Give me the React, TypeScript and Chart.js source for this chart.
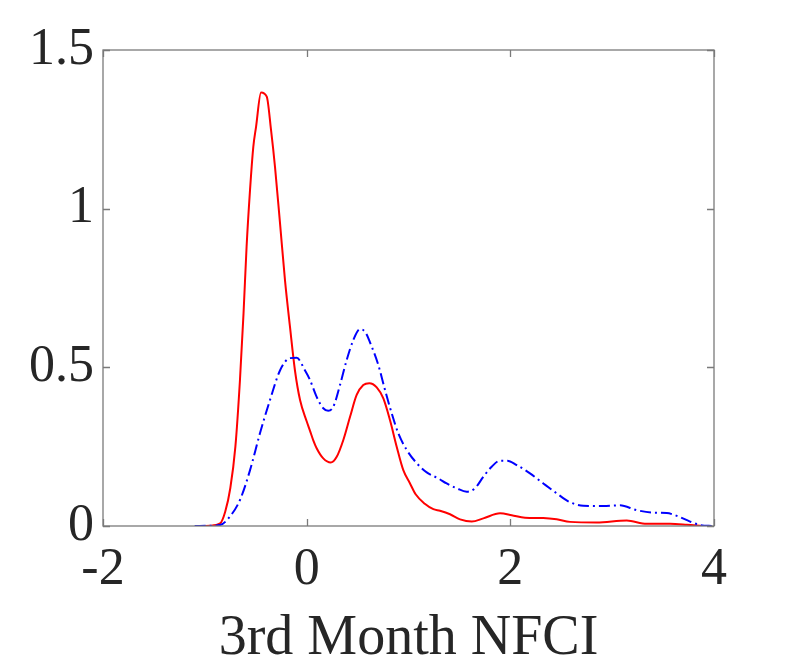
import { useEffect, useRef } from "react"
import { Chart, registerables } from "chart.js"

Chart.register(...registerables)

// 3rd Month NFCI densities
const redX = [
  -1.05, -0.95, -0.85, -0.8, -0.75, -0.7, -0.655, -0.62, -0.59, -0.556, -0.524, -0.497, -0.448, -0.392,
  -0.35, -0.311, -0.262, -0.213, -0.164, -0.115, -0.065, 0.0, 0.033, 0.065, 0.098, 0.163, 0.236, 0.295,
  0.36, 0.426, 0.491, 0.556, 0.615, 0.688, 0.753, 0.818, 0.884, 0.949, 1.015, 1.07, 1.16, 1.244, 1.309,
  1.408, 1.506, 1.621, 1.735, 1.899, 2.014, 2.144, 2.324, 2.455, 2.586, 2.848, 3.143, 3.339, 3.568,
  3.732, 3.88,
]
const redY = [
  0, 0.001, 0.008, 0.045, 0.119, 0.25, 0.46, 0.67, 0.88, 1.06, 1.195, 1.258, 1.366, 1.353,
  1.248, 1.132, 0.955, 0.775, 0.628, 0.49, 0.397, 0.33, 0.3, 0.27, 0.245, 0.213, 0.2, 0.218,
  0.271, 0.344, 0.413, 0.444, 0.45, 0.437, 0.402, 0.334, 0.25, 0.176, 0.134, 0.1, 0.07, 0.053, 0.048,
  0.037, 0.021, 0.014, 0.024, 0.04, 0.034, 0.026, 0.025, 0.021, 0.013, 0.011, 0.017, 0.007, 0.007,
  0.004, 0,
]

const blueX = [
  -1.1, -0.95, -0.851, -0.753, -0.655, -0.556, -0.458, -0.36, -0.262, -0.164, -0.098, -0.016, 0.033,
  0.098, 0.163, 0.212, 0.262, 0.327, 0.393, 0.458, 0.524, 0.573, 0.639, 0.704, 0.769, 0.835, 0.9,
  0.982, 1.081, 1.179, 1.293, 1.375, 1.473, 1.572, 1.653, 1.735, 1.817, 1.899, 1.97, 2.063, 2.193,
  2.324, 2.455, 2.586, 2.717, 2.913, 3.077, 3.241, 3.404, 3.536, 3.634, 3.765, 3.863, 3.99,
]
const blueY = [
  0, 0.001, 0.003, 0.03, 0.082, 0.176, 0.293, 0.397, 0.49, 0.529, 0.53, 0.49, 0.46,
  0.407, 0.371, 0.363, 0.376, 0.444, 0.523, 0.586, 0.62, 0.612, 0.565, 0.507, 0.429, 0.355, 0.292,
  0.24, 0.198, 0.169, 0.15, 0.134, 0.119, 0.108, 0.119, 0.155, 0.187, 0.206, 0.206, 0.192, 0.166,
  0.134, 0.103, 0.075, 0.064, 0.063, 0.065, 0.05, 0.042, 0.041, 0.032, 0.014, 0.003, 0,
]

const xTicks = [-2, 0, 2, 4]
const yTicks = [0, 0.5, 1, 1.5]

const axisColor = "#7a7a7a"
const textColor = "#262626"
const serif = "'Liberation Serif', 'Times New Roman', serif"

// box around the plot with ticks pointing inward on all four sides
const frameTicks = {
  id: "frameTicks",
  afterDatasetsDraw(chart: Chart) {
    const { ctx, chartArea: a } = chart
    const xs = chart.scales.x
    const ys = chart.scales.y
    const len = 7
    ctx.save()
    ctx.strokeStyle = axisColor
    ctx.lineWidth = 1.3
    ctx.beginPath()
    xs.ticks.forEach((t) => {
      const px = Math.round(xs.getPixelForValue(t.value)) + 0.5
      ctx.moveTo(px, a.bottom)
      ctx.lineTo(px, a.bottom - len)
      ctx.moveTo(px, a.top)
      ctx.lineTo(px, a.top + len)
    })
    ys.ticks.forEach((t) => {
      const py = Math.round(ys.getPixelForValue(t.value)) + 0.5
      ctx.moveTo(a.left, py)
      ctx.lineTo(a.left + len, py)
      ctx.moveTo(a.right, py)
      ctx.lineTo(a.right - len, py)
    })
    ctx.stroke()
    ctx.strokeRect(a.left, a.top, a.right - a.left, a.bottom - a.top)
    ctx.restore()
  },
}

export default function App() {
  const chartRef = useRef<HTMLCanvasElement>(null)
  const chartInstance = useRef<Chart | null>(null)

  useEffect(() => {
    if (!chartRef.current) return
    if (chartInstance.current) {
      chartInstance.current.destroy()
    }
    const ctx = chartRef.current.getContext("2d")
    if (!ctx) return

    chartInstance.current = new Chart(ctx, {
      type: "scatter",
      data: {
        datasets: [
          {
            label: "blue",
            data: blueX.map((x, i) => ({ x, y: blueY[i] })),
            borderColor: "#0000ff",
            borderWidth: 2,
            borderDash: [11, 4, 2, 4],
            showLine: true,
            pointRadius: 0,
            cubicInterpolationMode: "monotone",
          },
          {
            label: "red",
            data: redX.map((x, i) => ({ x, y: redY[i] })),
            borderColor: "#ff0000",
            borderWidth: 2,
            showLine: true,
            pointRadius: 0,
            cubicInterpolationMode: "monotone",
          },
        ],
      },
      options: {
        responsive: true,
        maintainAspectRatio: false,
        animation: false,
        layout: { padding: { left: 0, top: 50, right: 75, bottom: 0 } },
        plugins: {
          legend: { display: false },
          tooltip: { enabled: false },
        },
        scales: {
          x: {
            type: "linear",
            min: -2,
            max: 4,
            afterBuildTicks: (scale) => {
              scale.ticks = xTicks.map((v) => ({ value: v }))
            },
            afterFit: (scale) => {
              scale.height = 138
            },
            grid: { display: false, drawTicks: false },
            border: { display: false },
            ticks: {
              color: textColor,
              padding: 13,
              maxRotation: 0,
              callback: (v) => String(v),
              font: { family: serif, size: 52 },
            },
            title: {
              display: true,
              text: "3rd Month NFCI",
              color: textColor,
              padding: 0,
              font: { family: serif, size: 56, lineHeight: 0.9 },
            },
          },
          y: {
            type: "linear",
            min: 0,
            max: 1.5,
            afterBuildTicks: (scale) => {
              scale.ticks = yTicks.map((v) => ({ value: v }))
            },
            afterFit: (scale) => {
              scale.width = 103
            },
            grid: { display: false, drawTicks: false },
            border: { display: false },
            ticks: {
              color: textColor,
              padding: 9,
              callback: (v) => String(v),
              font: { family: serif, size: 52 },
            },
          },
        },
      },
      plugins: [frameTicks],
    })

    return () => {
      if (chartInstance.current) {
        chartInstance.current.destroy()
        chartInstance.current = null
      }
    }
  }, [])

  return (
    <div style={{ position: "absolute", left: 0, top: 0, width: 789, height: 664, background: "#fff" }}>
      <canvas ref={chartRef} />
    </div>
  )
}
